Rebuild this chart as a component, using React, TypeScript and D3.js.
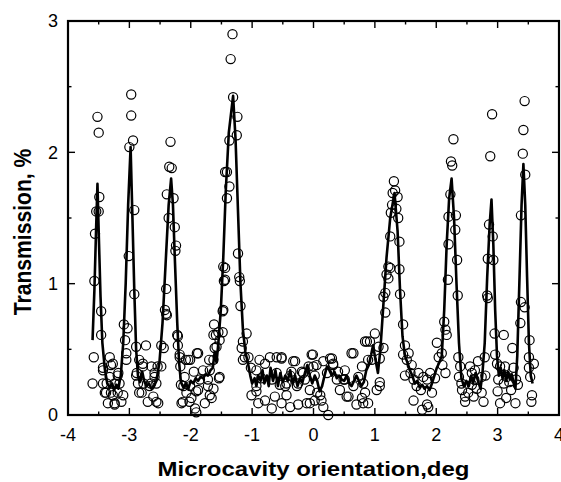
import React from "react";
import * as d3 from "d3";

// measured points (open circles): [angle deg, transmission %]
const peakPointsLeft: [number, number][] = [
  [-3.52, 2.27], [-3.5, 2.15], [-3.49, 1.66], [-3.54, 1.55], [-3.5, 1.55], [-3.56, 1.38],
  [-3.57, 1.02], [-3.46, 0.79], [-3.46, 0.61], [-3.58, 0.44], [-3.43, 0.34], [-3.6, 0.24],
  [-3.43, 0.24], [-3.32, 0.44], [-3.3, 0.38], [-3.38, 0.17], [-3.3, 0.17], [-3.35, 0.09],
  [-3.24, 0.09], [-3.19, 0.17], [-3.19, 0.3], [-3.16, 0.24], [-3.24, 0.24], [-3.32, 0.29],
  [-3.43, 0.36], [-3.27, 0.39], [-3.18, 0.32], [-3.37, 0.24], [-3.4, 0.17], [-3.27, 0.15],
  [-3.24, 0.08], [-3.1, 0.15], [-3.13, 0.1],
  [-2.97, 2.44], [-2.97, 2.28], [-2.94, 2.09], [-3.0, 2.04], [-2.92, 1.56], [-3.01, 1.21],
  [-2.92, 0.92], [-3.09, 0.69], [-3.03, 0.66], [-3.07, 0.57], [-3.05, 0.47], [-2.89, 0.52],
  [-2.73, 0.53], [-2.84, 0.42], [-2.78, 0.37], [-2.89, 0.3], [-2.86, 0.24], [-2.84, 0.17],
  [-2.7, 0.1], [-2.56, 0.1], [-2.67, 0.22], [-2.59, 0.29], [-2.54, 0.37], [-2.48, 0.53],
  [-2.44, 0.51], [-2.65, 0.24], [-2.77, 0.24], [-3.05, 0.42], [-2.88, 0.32], [-2.8, 0.17],
  [-2.78, 0.39], [-2.64, 0.37], [-2.59, 0.32], [-2.56, 0.24], [-2.53, 0.09], [-2.61, 0.14],
  [-2.48, 0.37],
  [-2.33, 2.08], [-2.35, 1.89], [-2.31, 1.88], [-2.39, 1.68], [-2.28, 1.65], [-2.36, 1.5],
  [-2.26, 1.43], [-2.24, 1.29], [-2.25, 1.25], [-2.4, 0.96], [-2.42, 0.8], [-2.4, 0.77],
  [-2.22, 0.61], [-2.21, 0.53], [-2.18, 0.44], [-2.08, 0.42], [-2.17, 0.37], [-2.1, 0.29],
  [-2.16, 0.23], [-2.13, 0.1], [-2.02, 0.1], [-2.39, 0.76], [-2.21, 0.6], [-2.18, 0.46],
  [-2.04, 0.42], [-1.88, 0.47], [-2.12, 0.22], [-2.07, 0.17], [-2.15, 0.09], [-1.99, 0.13],
  [-1.91, 0.02], [-1.91, 0.18], [-1.85, 0.27], [-1.72, 0.27], [-1.69, 0.34], [-1.77, 0.09],
  [-1.69, 0.15], [-1.72, 0.22], [-1.63, 0.61], [-1.55, 0.63], [-1.58, 0.52], [-1.53, 0.29],
  [-1.63, 0.42], [-1.53, 0.57],
];

const peakPointsCentre: [number, number][] = [
  [-1.32, 2.9], [-1.35, 2.71], [-1.31, 2.42], [-1.24, 2.27], [-1.25, 2.13], [-1.37, 2.09],
  [-1.41, 1.85], [-1.44, 1.85], [-1.37, 1.74], [-1.41, 1.65], [-1.23, 1.23], [-1.44, 1.12],
  [-1.46, 1.02], [-1.21, 1.05], [-1.2, 1.02], [-1.19, 0.83], [-1.48, 0.79], [-1.62, 0.69],
  [-1.48, 0.63], [-1.59, 0.61], [-1.09, 0.62], [-1.15, 0.56], [-1.61, 0.51], [-1.17, 0.51],
  [-1.12, 0.44], [-1.15, 0.42], [-1.7, 0.42], [-1.9, 0.47], [-2.01, 0.42], [-1.8, 0.34],
  [-1.95, 0.33], [-1.54, 0.28], [-1.63, 0.2], [-1.88, 0.19], [-1.66, 0.13], [-1.93, 0.05],
  [-2.01, 0.22], [-1.47, 1.13], [-1.44, 1.03], [-1.47, 0.8],
  [-1.01, 0.15], [-0.93, 0.18], [-0.9, 0.09], [-0.79, 0.11], [-0.68, 0.05], [-0.63, 0.14],
  [-0.52, 0.09], [-0.38, 0.06], [-0.25, 0.08], [-0.11, 0.09], [-0.71, 0.44], [-0.79, 0.39],
  [-0.52, 0.43], [-0.3, 0.41], [-0.03, 0.46], [-0.93, 0.34], [-0.6, 0.32], [-0.38, 0.3],
  [-0.17, 0.32], [-0.85, 0.28], [-0.44, 0.24], [-0.27, 0.22], [-0.55, 0.23], [-0.68, 0.27],
  [-1.06, 0.44], [-0.93, 0.22], [-0.6, 0.44], [-1.02, 0.36], [-0.88, 0.42],
  [-0.52, 0.44], [-0.33, 0.41], [-0.36, 0.33], [-0.46, 0.22], [-0.44, 0.15], [-0.25, 0.24],
  [-0.19, 0.33], [-0.14, 0.27], [-0.08, 0.37], [-0.01, 0.46], [0.05, 0.38], [0.02, 0.3],
  [0.06, 0.17], [-0.06, 0.09], [0.13, 0.11], [0.24, 0.0], [0.22, 0.32], [0.27, 0.43],
  [0.32, 0.39], [0.4, 0.33], [0.51, 0.27], [0.43, 0.19], [0.57, 0.14], [0.7, 0.08],
  [0.79, 0.13], [0.89, 0.09], [0.81, 0.24], [0.62, 0.47], [0.92, 0.56], [1.0, 0.62],
  [0.84, 0.56], [0.95, 0.42], [1.06, 0.52], [1.03, 0.19], [1.08, 0.22],
  [0.0, 0.37], [0.16, 0.41], [0.3, 0.43], [0.32, 0.38], [0.38, 0.27], [0.51, 0.34],
  [0.49, 0.27], [0.54, 0.14], [0.65, 0.47], [0.73, 0.29], [0.81, 0.09], [0.84, 0.17],
  [0.79, 0.37], [0.87, 0.56], [0.89, 0.42], [1.08, 0.43], [1.08, 0.25], [1.14, 0.51],
  [0.11, 0.15], [0.16, 0.06], [0.02, 0.11], [-0.06, 0.19], [0.65, 0.22],
];

const peakPointsRight: [number, number][] = [
  [1.31, 1.78], [1.33, 1.71], [1.29, 1.69], [1.37, 1.66], [1.28, 1.6], [1.35, 1.57],
  [1.26, 1.54], [1.38, 1.5], [1.25, 1.36], [1.4, 1.32], [1.22, 1.13], [1.25, 1.12],
  [1.19, 1.07], [1.22, 1.04], [1.4, 1.11], [1.17, 0.93], [1.14, 0.9], [1.41, 0.92],
  [1.17, 0.78], [1.46, 0.69], [1.49, 0.53], [1.46, 0.46], [1.55, 0.47], [1.52, 0.42],
  [1.49, 0.3], [1.6, 0.38], [1.63, 0.27], [1.71, 0.32], [1.79, 0.29], [1.85, 0.27],
  [1.9, 0.32], [1.63, 0.11], [1.77, 0.04], [1.87, 0.06], [1.93, 0.17], [1.85, 0.08],
  [1.68, 0.22], [1.75, 0.19], [1.98, 0.28], [1.58, 0.32],
  [2.28, 2.1], [2.24, 1.93], [2.26, 1.9], [2.23, 1.68], [2.2, 1.51], [2.32, 1.52],
  [2.31, 1.41], [2.2, 1.3], [2.34, 1.18], [2.19, 1.03], [2.35, 0.91], [2.13, 0.71],
  [2.15, 0.65], [2.17, 0.61], [2.09, 0.47], [2.01, 0.55], [2.1, 0.38], [2.04, 0.44],
  [2.15, 0.32], [2.36, 0.44], [2.39, 0.37], [2.37, 0.29], [2.41, 0.24], [2.42, 0.19],
  [2.47, 0.14], [2.47, 0.1], [2.52, 0.17], [2.55, 0.37], [2.58, 0.32], [2.68, 0.41],
  [2.63, 0.34], [2.62, 0.27], [2.58, 0.23], [2.66, 0.2], [2.74, 0.17], [2.77, 0.1],
  [2.79, 0.44], [2.74, 0.29], [2.8, 0.3], [2.61, 0.14],
  [2.91, 2.29], [2.88, 1.97], [2.86, 1.45], [2.92, 1.36], [2.84, 1.19], [2.93, 1.18],
  [2.83, 0.91], [2.84, 0.89], [2.95, 0.62], [3.1, 0.61], [2.96, 0.46], [2.99, 0.39],
  [3.04, 0.37], [3.01, 0.27], [3.0, 0.18], [3.04, 0.09], [3.12, 0.37], [3.15, 0.29],
  [3.1, 0.24], [3.19, 0.25], [3.14, 0.13], [3.22, 0.19], [3.26, 0.36], [3.24, 0.51],
  [3.29, 0.09], [3.3, 0.27],
  [3.44, 2.39], [3.42, 2.17], [3.41, 1.99], [3.45, 1.83], [3.38, 1.52], [3.38, 0.86],
  [3.44, 0.82], [3.37, 0.7], [3.52, 0.57], [3.51, 0.44], [3.59, 0.39], [3.51, 0.36],
  [3.53, 0.29], [3.56, 0.15], [3.55, 0.1], [3.33, 0.23],
];

// fitted curve through the data
const fitCurve: [number, number][] = [
  [-3.6, 0.57], [-3.57, 0.95], [-3.54, 1.45], [-3.52, 1.76], [-3.5, 1.4], [-3.47, 0.9],
  [-3.44, 0.55], [-3.4, 0.35], [-3.36, 0.24], [-3.32, 0.21], [-3.28, 0.24], [-3.25, 0.19],
  [-3.21, 0.23], [-3.18, 0.2], [-3.14, 0.3], [-3.1, 0.55], [-3.06, 1.0], [-3.02, 1.6],
  [-2.98, 2.04], [-2.95, 1.5], [-2.92, 0.95], [-2.89, 0.5], [-2.86, 0.3], [-2.83, 0.25],
  [-2.79, 0.33], [-2.76, 0.26], [-2.72, 0.22], [-2.68, 0.24], [-2.64, 0.2], [-2.6, 0.22],
  [-2.56, 0.26], [-2.51, 0.4], [-2.46, 0.7], [-2.41, 1.15], [-2.36, 1.6], [-2.32, 1.8],
  [-2.29, 1.6], [-2.26, 1.2], [-2.22, 0.7], [-2.19, 0.4], [-2.16, 0.25], [-2.12, 0.21],
  [-2.08, 0.24], [-2.04, 0.2], [-2.0, 0.26], [-1.96, 0.24], [-1.92, 0.28], [-1.88, 0.26],
  [-1.84, 0.29], [-1.8, 0.28], [-1.76, 0.31], [-1.72, 0.3], [-1.68, 0.34], [-1.64, 0.36],
  [-1.61, 0.48], [-1.58, 0.4], [-1.55, 0.55], [-1.51, 0.8], [-1.47, 1.2], [-1.43, 1.7],
  [-1.38, 2.15], [-1.31, 2.43], [-1.27, 2.1], [-1.23, 1.55], [-1.19, 1.0], [-1.15, 0.65],
  [-1.11, 0.48], [-1.07, 0.4], [-1.03, 0.3], [-1.0, 0.24], [-0.96, 0.28], [-0.93, 0.22],
  [-0.9, 0.3], [-0.86, 0.26], [-0.83, 0.34], [-0.8, 0.24], [-0.76, 0.3], [-0.73, 0.22],
  [-0.7, 0.36], [-0.66, 0.26], [-0.62, 0.34], [-0.58, 0.22], [-0.54, 0.32], [-0.5, 0.25],
  [-0.46, 0.3], [-0.42, 0.26], [-0.38, 0.34], [-0.34, 0.24], [-0.3, 0.3], [-0.26, 0.22],
  [-0.22, 0.28], [-0.18, 0.25], [-0.14, 0.32], [-0.1, 0.38], [-0.06, 0.3], [-0.02, 0.24],
  [0.02, 0.3], [0.06, 0.26], [0.1, 0.18], [0.14, 0.22], [0.18, 0.3], [0.22, 0.37],
  [0.26, 0.34], [0.3, 0.3], [0.34, 0.33], [0.38, 0.28], [0.42, 0.3], [0.46, 0.27],
  [0.5, 0.26], [0.54, 0.3], [0.58, 0.24], [0.62, 0.22], [0.66, 0.26], [0.7, 0.3],
  [0.74, 0.26], [0.78, 0.22], [0.82, 0.25], [0.86, 0.34], [0.9, 0.38], [0.94, 0.46],
  [0.97, 0.53], [1.01, 0.42], [1.05, 0.32], [1.09, 0.5], [1.14, 0.85], [1.19, 1.2],
  [1.25, 1.5], [1.32, 1.69], [1.37, 1.4], [1.41, 0.95], [1.45, 0.6], [1.49, 0.45],
  [1.53, 0.4], [1.57, 0.34], [1.61, 0.3], [1.65, 0.24], [1.69, 0.26], [1.73, 0.21],
  [1.77, 0.23], [1.81, 0.2], [1.85, 0.22], [1.89, 0.19], [1.93, 0.24], [1.97, 0.3],
  [2.01, 0.36], [2.05, 0.4], [2.09, 0.45], [2.13, 0.8], [2.17, 1.3], [2.21, 1.65],
  [2.25, 1.8], [2.29, 1.5], [2.33, 1.0], [2.37, 0.55], [2.41, 0.28], [2.45, 0.22],
  [2.49, 0.26], [2.53, 0.22], [2.57, 0.3], [2.6, 0.24], [2.64, 0.32], [2.68, 0.26],
  [2.72, 0.2], [2.75, 0.3], [2.79, 0.55], [2.83, 1.05], [2.87, 1.45], [2.9, 1.64],
  [2.93, 1.3], [2.96, 0.8], [2.99, 0.45], [3.02, 0.3], [3.05, 0.36], [3.08, 0.28],
  [3.11, 0.34], [3.14, 0.26], [3.17, 0.33], [3.2, 0.27], [3.23, 0.31], [3.26, 0.25],
  [3.29, 0.2], [3.32, 0.45], [3.36, 1.1], [3.39, 1.6], [3.42, 1.91], [3.45, 1.6],
  [3.48, 1.05], [3.51, 0.55], [3.54, 0.3], [3.57, 0.24],
];

const xTicks = [-4, -3, -2, -1, 0, 1, 2, 3, 4];
const xMinorTicks = [-3.5, -2.5, -1.5, -0.5, 0.5, 1.5, 2.5, 3.5];
const yTicks = [0, 1, 2, 3];
const yMinorTicks = [0.5, 1.5, 2.5];

const W = 561;
const H = 482;
const margin = { left: 68, right: 2, top: 21, bottom: 67 };

export default function App() {
  const x = d3.scaleLinear().domain([-4, 4]).range([margin.left, W - margin.right]);
  const y = d3.scaleLinear().domain([0, 3]).range([H - margin.bottom, margin.top]);
  const [x0, x1] = x.range();
  const [y0, y1] = y.range();

  const line = d3
    .line<[number, number]>()
    .x((d) => x(d[0]))
    .y((d) => y(d[1]));

  const points = [...peakPointsLeft, ...peakPointsCentre, ...peakPointsRight];
  const font = "Liberation Sans, Arial, sans-serif";

  return (
    <svg
      width={W}
      height={H}
      style={{ position: "absolute", left: 0, top: 0, background: "white" }}
      fontFamily={font}
    >
      <g fill="none" stroke="#000" strokeWidth={1.2}>
        {points.map((d, i) => (
          <circle key={i} cx={x(d[0])} cy={y(d[1])} r={4.6} />
        ))}
      </g>
      <path d={line(fitCurve) ?? ""} fill="none" stroke="#000" strokeWidth={2.6} strokeLinejoin="round" />

      <g stroke="#000" strokeWidth={1.4}>
        {xTicks.slice(1, -1).map((t) => (
          <g key={"x" + t}>
            <line x1={x(t)} x2={x(t)} y1={y0} y2={y0 - 7} />
            <line x1={x(t)} x2={x(t)} y1={y1} y2={y1 + 7} />
          </g>
        ))}
        {xMinorTicks.map((t) => (
          <g key={"xm" + t}>
            <line x1={x(t)} x2={x(t)} y1={y0} y2={y0 - 3.5} />
            <line x1={x(t)} x2={x(t)} y1={y1} y2={y1 + 3.5} />
          </g>
        ))}
        {yTicks.slice(1, -1).map((t) => (
          <g key={"y" + t}>
            <line x1={x0} x2={x0 + 7} y1={y(t)} y2={y(t)} />
            <line x1={x1} x2={x1 - 7} y1={y(t)} y2={y(t)} />
          </g>
        ))}
        {yMinorTicks.map((t) => (
          <g key={"ym" + t}>
            <line x1={x0} x2={x0 + 3.5} y1={y(t)} y2={y(t)} />
            <line x1={x1} x2={x1 - 3.5} y1={y(t)} y2={y(t)} />
          </g>
        ))}
      </g>
      <rect x={x0} y={y1} width={x1 - x0} height={y0 - y1} fill="none" stroke="#000" strokeWidth={2.2} />

      <g fontSize={18} fill="#000">
        {xTicks.map((t) => (
          <text key={"xl" + t} x={x(t)} y={y0 + 26} textAnchor="middle">
            {t}
          </text>
        ))}
        {yTicks.map((t) => (
          <text key={"yl" + t} x={x0 - 10} y={y(t)} dy="0.36em" textAnchor="end">
            {t}
          </text>
        ))}
      </g>
      <text
        transform={`translate(${(x0 + x1) / 2},476) scale(1,0.88)`}
        textAnchor="middle"
        fontSize={24}
        fontWeight="bold"
      >
        Microcavity orientation,deg
      </text>
      <text
        transform={`translate(31,${(y0 + y1) / 2 + 14}) rotate(-90) scale(0.88,1)`}
        textAnchor="middle"
        fontSize={24}
        fontWeight="bold"
      >
        Transmission, %
      </text>
    </svg>
  );
}
